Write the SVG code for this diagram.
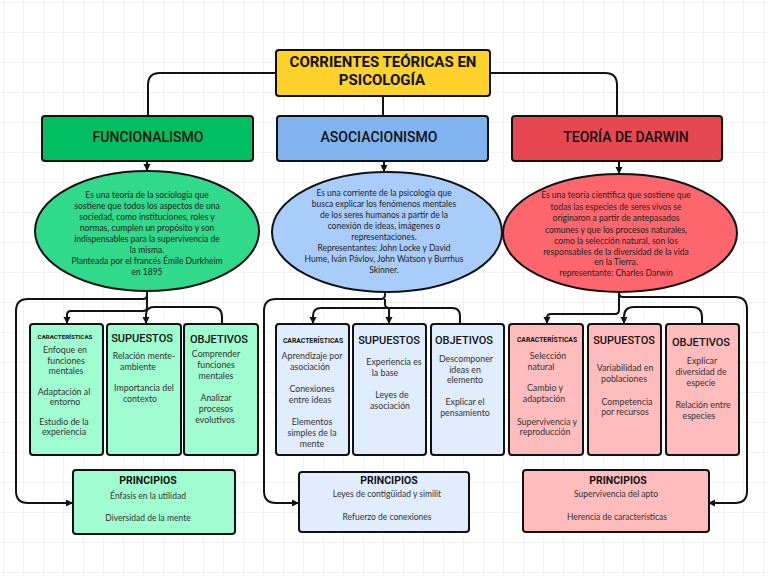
<svg xmlns="http://www.w3.org/2000/svg" width="768" height="576" viewBox="0 0 768 576">
<defs>
<pattern id="grid" x="3" y="2" width="20" height="30" patternUnits="userSpaceOnUse">
<path d="M0,0 H20 M0,0 V30" fill="none" stroke="#e2e2e2" stroke-width="0.8"/>
</pattern>
<marker id="arr" markerUnits="userSpaceOnUse" markerWidth="8" markerHeight="8" refX="6" refY="3.5" orient="auto">
<path d="M0,0 L7,3.5 L0,7 z" fill="#111"/>
</marker>
</defs>
<style>
.box{stroke:#111;stroke-width:2}
.con{fill:none;stroke:#111;stroke-width:2}
.title{font-family:Roboto,"Liberation Sans",sans-serif;font-weight:700;font-size:15px;fill:#111;text-anchor:middle}
.main{font-family:Roboto,"Liberation Sans",sans-serif;font-weight:500;font-size:14px;fill:#111;text-anchor:middle}
.ell{font-family:Lato,"Liberation Sans",sans-serif;font-size:8.5px;fill:#222;text-anchor:middle}
.hd{font-family:Roboto,"Liberation Sans",sans-serif;font-weight:500;font-size:11px;fill:#111;text-anchor:middle}
.car{font-family:Roboto,"Liberation Sans",sans-serif;font-weight:700;font-size:6.8px;fill:#111;text-anchor:middle}
.bd{font-family:Lato,"Liberation Sans",sans-serif;font-size:8.8px;fill:#333;text-anchor:middle}
.ph{font-family:Roboto,"Liberation Sans",sans-serif;font-weight:700;font-size:10.5px;fill:#111;text-anchor:middle}
.pb{font-family:Lato,"Liberation Sans",sans-serif;font-size:8.5px;fill:#333;text-anchor:middle}
.g1{fill:#9ffdd0}.b1{fill:#e0edfe}.r1{fill:#ffbcbd}
</style>
<rect width="768" height="576" fill="#ffffff"/>
<rect width="768" height="576" fill="url(#grid)"/>

<g id="connectors">
<path class="con" d="M276,73 H160 Q148,73 148,85 V116"/>
<path class="con" d="M490,73 H605 Q617,73 617,85 V116"/>
<path class="con" d="M383,96 V116"/>
<path class="con" d="M147,161 V170" marker-end="url(#arr)"/>
<path class="con" d="M384,161 V171" marker-end="url(#arr)"/>
<path class="con" d="M619,161 V173" marker-end="url(#arr)"/>
<path class="con" d="M147,291 V295 Q147,299 143,299 H28 Q16,299 16,311 V491 Q16,503 28,503 H72" marker-end="url(#arr)"/>
<path class="con" d="M147,291 V307 Q147,311 143,311 H71 Q67,311 67,315 V323" marker-end="url(#arr)"/>
<path class="con" d="M222,324 V317 Q222,307 212,307 H154 Q146,307 146,315 V323" marker-end="url(#arr)"/>
<path class="con" d="M385,292 V295 Q385,299 381,299 H276 Q264,299 264,311 V491 Q264,503 276,503 H298" marker-end="url(#arr)"/>
<path class="con" d="M385,299 V304 Q385,308 389,308 H321 Q313,308 313,316 V323" marker-end="url(#arr)"/>
<path class="con" d="M460,324 V316 Q460,308 452,308 H389 V323" marker-end="url(#arr)"/>
<path class="con" d="M619,292 V293 Q619,297 623,297 H735 Q747,297 747,309 V491 Q747,503 735,503 H709" marker-end="url(#arr)"/>
<path class="con" d="M619,292 V310 Q619,314 615,314 H551 Q547,314 547,318 V323" marker-end="url(#arr)"/>
<path class="con" d="M702,324 V317 Q702,307 692,307 H634 Q624,307 624,317 V323" marker-end="url(#arr)"/>
</g>

<g id="title">
<rect class="box" x="276" y="50" width="214" height="46" rx="3" fill="#fcd22b"/>
<text class="title" x="383" y="67">CORRIENTES TEÓRICAS EN</text>
<text class="title" x="382" y="85">PSICOLOGÍA</text>
</g>

<g id="funcionalismo">
<rect class="box" x="42" y="116" width="211" height="45" rx="3" fill="#00bf63"/>
<text class="main" x="148" y="142">FUNCIONALISMO</text>
</g>
<g id="asociacionismo">
<rect class="box" x="277" y="116" width="211" height="45" rx="3" fill="#80b3f0"/>
<text class="main" x="379" y="142">ASOCIACIONISMO</text>
</g>
<g id="darwin">
<rect class="box" x="512" y="116" width="210" height="45" rx="3" fill="#e54850"/>
<text class="main" x="626" y="142">TEORÍA DE DARWIN</text>
</g>

<g id="def-funcionalismo">
<ellipse class="box" cx="147" cy="231" rx="112" ry="60" fill="#31d98b"/>
<text class="ell" x="147" y="198">Es una teoría de la sociología que</text>
<text class="ell" x="147" y="209">sostiene que todos los aspectos de una</text>
<text class="ell" x="147" y="220">sociedad, como instituciones, roles y</text>
<text class="ell" x="147" y="231">normas, cumplen un propósito y son</text>
<text class="ell" x="147" y="242">indispensables para la supervivencia de</text>
<text class="ell" x="147" y="253">la misma.</text>
<text class="ell" x="147" y="264">Planteada por el francés Émile Durkheim</text>
<text class="ell" x="147" y="275">en 1895</text>
</g>
<g id="def-asociacionismo">
<ellipse class="box" cx="387" cy="232" rx="115" ry="60" fill="#a9cdfb"/>
<text class="ell" x="384" y="196">Es una corriente de la psicología que</text>
<text class="ell" x="384" y="207">busca explicar los fenómenos mentales</text>
<text class="ell" x="384" y="218">de los seres humanos a partir de la</text>
<text class="ell" x="384" y="229">conexión de ideas, imágenes o</text>
<text class="ell" x="384" y="240">representaciones.</text>
<text class="ell" x="384" y="251">Representantes: John Locke y David</text>
<text class="ell" x="384" y="262">Hume, Iván Pávlov, John Watson y Burrhus</text>
<text class="ell" x="384" y="273">Skinner.</text>
</g>
<g id="def-darwin">
<ellipse class="box" cx="620" cy="233" rx="117" ry="59" fill="#fe666e"/>
<text class="ell" x="616" y="198">Es una teoría científica que sostiene que</text>
<text class="ell" x="616" y="210">todas las especies de seres vivos se</text>
<text class="ell" x="616" y="221">originaron a partir de antepasados</text>
<text class="ell" x="616" y="233">comunes y que los procesos naturales,</text>
<text class="ell" x="616" y="244">como la selección natural, son los</text>
<text class="ell" x="616" y="255">responsables de la diversidad de la vida</text>
<text class="ell" x="616" y="265">en la Tierra.</text>
<text class="ell" x="616" y="276">representante: Charles Darwin</text>
</g>

<g id="f-caracteristicas">
<rect class="box g1" x="30" y="324" width="73" height="131" rx="3"/>
<text class="car" x="65" y="339" style="font-size:6.2px">CARACTERÍSTICAS</text>
<text class="bd" x="65" y="353">Enfoque en</text>
<text class="bd" x="66" y="364">funciones</text>
<text class="bd" x="66" y="374">mentales</text>
<text class="bd" x="64" y="395">Adaptación al</text>
<text class="bd" x="65" y="405">entorno</text>
<text class="bd" x="64" y="425">Estudio de la</text>
<text class="bd" x="64" y="435">experiencia</text>
</g>
<g id="f-supuestos">
<rect class="box g1" x="107" y="324" width="74" height="131" rx="3"/>
<text class="hd" x="142" y="342">SUPUESTOS</text>
<text class="bd" x="144" y="359">Relación mente-</text>
<text class="bd" x="138" y="370">ambiente</text>
<text class="bd" x="144" y="391">Importancia del</text>
<text class="bd" x="140" y="402">contexto</text>
</g>
<g id="f-objetivos">
<rect class="box g1" x="184" y="324" width="74" height="131" rx="3"/>
<text class="hd" x="219" y="343">OBJETIVOS</text>
<text class="bd" x="216" y="357">Comprender</text>
<text class="bd" x="216" y="368">funciones</text>
<text class="bd" x="216" y="379">mentales</text>
<text class="bd" x="216" y="401">Analizar</text>
<text class="bd" x="216" y="412">procesos</text>
<text class="bd" x="215" y="423">evolutivos</text>
</g>

<g id="a-caracteristicas">
<rect class="box b1" x="276" y="324" width="73" height="131" rx="3"/>
<text class="car" x="313" y="343">CARACTERÍSTICAS</text>
<text class="bd" x="312" y="359">Aprendizaje por</text>
<text class="bd" x="310" y="370">asociación</text>
<text class="bd" x="312" y="392">Conexiones</text>
<text class="bd" x="310" y="403">entre ideas</text>
<text class="bd" x="312" y="425">Elementos</text>
<text class="bd" x="312" y="436">simples de la</text>
<text class="bd" x="312" y="447">mente</text>
</g>
<g id="a-supuestos">
<rect class="box b1" x="353" y="324" width="73" height="131" rx="3"/>
<text class="hd" x="389" y="344">SUPUESTOS</text>
<text class="bd" x="394" y="365">Experiencia es</text>
<text class="bd" x="385" y="376">la base</text>
<text class="bd" x="392" y="398">Leyes de</text>
<text class="bd" x="390" y="409">asociación</text>
</g>
<g id="a-objetivos">
<rect class="box b1" x="431" y="324" width="73" height="131" rx="3"/>
<text class="hd" x="464" y="344">OBJETIVOS</text>
<text class="bd" x="466" y="362">Descomponer</text>
<text class="bd" x="465" y="373">ideas en</text>
<text class="bd" x="465" y="383">elemento</text>
<text class="bd" x="465" y="405">Explicar el</text>
<text class="bd" x="465" y="416">pensamiento</text>
</g>

<g id="d-caracteristicas">
<rect class="box r1" x="509" y="324" width="74" height="131" rx="3"/>
<text class="car" x="547" y="342">CARACTERÍSTICAS</text>
<text class="bd" x="548" y="359">Selección</text>
<text class="bd" x="541" y="370">natural</text>
<text class="bd" x="545" y="391">Cambio y</text>
<text class="bd" x="544" y="402">adaptación</text>
<text class="bd" x="547" y="425">Supervivencia y</text>
<text class="bd" x="545" y="435">reproducción</text>
</g>
<g id="d-supuestos">
<rect class="box r1" x="588" y="324" width="73" height="131" rx="3"/>
<text class="hd" x="624" y="344">SUPUESTOS</text>
<text class="bd" x="625" y="371">Variabilidad en</text>
<text class="bd" x="624" y="382">poblaciones</text>
<text class="bd" x="627" y="405">Competencia</text>
<text class="bd" x="625" y="415">por recursos</text>
</g>
<g id="d-objetivos">
<rect class="box r1" x="666" y="324" width="73" height="131" rx="3"/>
<text class="hd" x="701" y="346">OBJETIVOS</text>
<text class="bd" x="702" y="364">Explicar</text>
<text class="bd" x="701" y="375">diversidad de</text>
<text class="bd" x="701" y="386">especie</text>
<text class="bd" x="703" y="408">Relación entre</text>
<text class="bd" x="699" y="419">especies</text>
</g>

<g id="f-principios">
<rect class="box g1" x="73" y="470" width="162" height="64" rx="3"/>
<text class="ph" x="148" y="484">PRINCIPIOS</text>
<text class="pb" x="148" y="499">Énfasis en la utilidad</text>
<text class="pb" x="148" y="521">Diversidad de la mente</text>
</g>
<g id="a-principios">
<rect class="box b1" x="299" y="472" width="170" height="60" rx="3"/>
<text class="ph" x="389" y="484">PRINCIPIOS</text>
<text class="pb" x="387" y="497">Leyes de contigüidad y similit</text>
<text class="pb" x="387" y="520">Refuerzo de conexiones</text>
</g>
<g id="d-principios">
<rect class="box r1" x="523" y="470" width="186" height="62" rx="3"/>
<text class="ph" x="618" y="484">PRINCIPIOS</text>
<text class="pb" x="616" y="497">Supervivencia del apto</text>
<text class="pb" x="617" y="520">Herencia de características</text>
</g>
</svg>
